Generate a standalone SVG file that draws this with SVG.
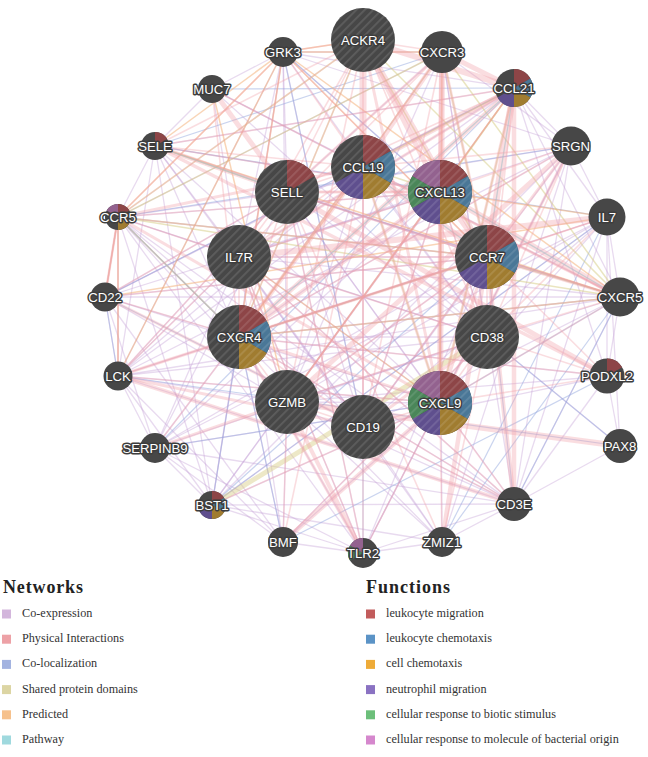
<svg xmlns="http://www.w3.org/2000/svg" xmlns:xlink="http://www.w3.org/1999/xlink" width="648" height="757" viewBox="0 0 648 757">
<style>
.e path{fill:none;stroke-linecap:butt}
.ce path{stroke:#c6a2d6;stroke-opacity:.4;stroke-width:1.3}
.pi path{stroke:#f0a2a9;stroke-opacity:.36;stroke-width:1.6}
.sd path{stroke:#d6cc82;stroke-opacity:.5;stroke-width:1.5}
.pr path{stroke:#f4ab70;stroke-opacity:.5;stroke-width:1.5}
.cl path{stroke:#96aae0;stroke-opacity:.5;stroke-width:1.2}
.pw path{stroke:#84d2da;stroke-opacity:.6;stroke-width:1.3}
.n{fill:#474747}
.hq{fill:url(#h)}
.f0{fill:#8d4547}.f1{fill:#4a7797}.f2{fill:#a07c30}.f3{fill:#5f4f8e}.f4{fill:#4a8659}.f5{fill:#93628f}
.lb{font-family:"Liberation Sans",Arial,sans-serif;font-size:13.2px;fill:#fff;stroke:#3d3d3d;stroke-width:3px;paint-order:stroke;stroke-linejoin:round;text-anchor:middle}
.lh{font-family:"Liberation Serif","Times New Roman",serif;font-size:18px;font-weight:bold;fill:#222}
.li{font-family:"Liberation Serif","Times New Roman",serif;font-size:12.2px;fill:#333}
</style>
<defs>
<pattern id="h" width="6" height="6" patternUnits="userSpaceOnUse" patternTransform="rotate(45)"><rect width="1.8" height="6" fill="#fff" fill-opacity=".12"/></pattern>
<path id="s0" d="M0 0V-1A1 1 0 0 1 .866-.5Z"/>
<path id="s1" d="M0 0L.866-.5A1 1 0 0 1 .866 .5Z"/>
<path id="s2" d="M0 0L.866 .5A1 1 0 0 1 0 1Z"/>
<path id="s3" d="M0 0V1A1 1 0 0 1-.866 .5Z"/>
<path id="s4" d="M0 0L-.866 .5A1 1 0 0 1-.866-.5Z"/>
<path id="s5" d="M0 0L-.866-.5A1 1 0 0 1 0-1Z"/>
</defs>
<rect width="648" height="757" fill="#fff"/>
<g id="connectors" class="e">
<g class="ce">
<path d="M155 448L487 337"/><path d="M155 448L440 403"/><path d="M155 448L487 257"/><path d="M155 448L514 504"/><path d="M155 448L118 376"/><path d="M155 448L239 337"/><path d="M155 448L239 257"/><path d="M155 448L287 192"/><path d="M155 448L363 553"/><path d="M155 448L283 542"/><path d="M155 448L440 192"/>
<path d="M118 376L514 504"/><path d="M118 376L287 402"/><path d="M118 376L487 257"/><path d="M118 376L287 192"/><path d="M118 376L239 257"/><path d="M118 376L440 403"/><path d="M118 376L620 297"/><path d="M118 376L212 505"/><path d="M118 376L363 167"/><path d="M118 376L283 542"/><path d="M118 376L487 337"/>
<path d="M105 297L620 297"/><path d="M105 297L487 257"/><path d="M105 297L287 192"/><path d="M105 297L440 192"/><path d="M105 297L363 167"/><path d="M105 297L239 337"/><path d="M105 297L118 376"/><path d="M105 297L283 542"/><path d="M105 297L287 402"/><path d="M105 297L440 403"/><path d="M105 297L155 448"/>
<path d="M118 217L287 402"/><path d="M118 217L487 337"/><path d="M118 217L239 337"/><path d="M118 217L239 257"/><path d="M118 217L514 504"/><path d="M118 217L287 192"/><path d="M118 217L487 257"/><path d="M118 217L155 146"/><path d="M118 217L118 376"/><path d="M118 217L105 297"/><path d="M118 217L363 553"/><path d="M118 217L212 505"/><path d="M118 217L440 192"/><path d="M118 217L363 427"/>
<path d="M155 146L440 192"/><path d="M155 146L514 88"/><path d="M155 146L487 257"/><path d="M155 146L212 89"/><path d="M155 146L239 257"/><path d="M155 146L440 403"/><path d="M155 146L239 337"/><path d="M155 146L363 427"/><path d="M155 146L118 376"/>
<path d="M212 89L283 52"/><path d="M212 89L487 337"/><path d="M212 89L620 297"/><path d="M212 89L363 167"/><path d="M212 89L239 257"/>
<path d="M283 52L287 192"/><path d="M283 52L239 257"/><path d="M283 52L514 88"/><path d="M283 52L571 146"/><path d="M283 52L487 337"/><path d="M283 52L118 376"/><path d="M283 52L442 52"/><path d="M283 52L440 192"/><path d="M283 52L363 427"/><path d="M283 52L287 402"/>
<path d="M442 52L118 217"/><path d="M442 52L514 504"/><path d="M442 52L571 146"/><path d="M442 52L287 402"/><path d="M442 52L287 192"/><path d="M442 52L487 337"/>
<path d="M514 88L571 146"/><path d="M514 88L607 217"/><path d="M514 88L620 297"/><path d="M514 88L239 257"/><path d="M514 88L212 505"/><path d="M514 88L607 376"/><path d="M514 88L118 376"/><path d="M514 88L105 297"/>
<path d="M571 146L607 217"/><path d="M571 146L440 403"/><path d="M571 146L514 504"/><path d="M571 146L212 505"/><path d="M571 146L363 553"/><path d="M571 146L442 542"/><path d="M571 146L118 376"/><path d="M571 146L239 337"/><path d="M571 146L239 257"/><path d="M571 146L287 192"/><path d="M571 146L363 427"/>
<path d="M607 217L620 297"/><path d="M607 217L514 504"/><path d="M607 217L440 403"/><path d="M607 217L607 376"/><path d="M607 217L620 446"/><path d="M607 217L212 505"/><path d="M607 217L155 448"/><path d="M607 217L239 337"/><path d="M607 217L363 427"/><path d="M607 217L287 402"/>
<path d="M620 297L363 427"/><path d="M620 297L607 376"/><path d="M620 297L514 504"/><path d="M620 297L487 257"/><path d="M620 297L287 192"/><path d="M620 297L287 402"/><path d="M620 297L239 337"/><path d="M620 297L239 257"/>
<path d="M607 376L514 504"/><path d="M607 376L620 446"/><path d="M607 376L239 337"/><path d="M607 376L287 402"/><path d="M607 376L363 427"/>
<path d="M620 446L514 504"/><path d="M620 446L487 337"/>
<path d="M514 504L363 553"/><path d="M514 504L442 542"/><path d="M514 504L287 402"/><path d="M514 504L239 337"/><path d="M514 504L239 257"/><path d="M514 504L212 505"/><path d="M514 504L287 192"/><path d="M514 504L363 427"/>
<path d="M442 542L363 553"/><path d="M442 542L239 337"/><path d="M442 542L239 257"/><path d="M442 542L287 402"/><path d="M442 542L440 192"/><path d="M442 542L212 505"/><path d="M442 542L363 427"/>
<path d="M363 553L440 403"/><path d="M363 553L239 337"/><path d="M363 553L287 192"/><path d="M363 553L212 505"/><path d="M363 553L283 542"/><path d="M363 553L239 257"/><path d="M363 553L487 257"/>
<path d="M283 542L287 402"/><path d="M283 542L239 337"/><path d="M283 542L239 257"/><path d="M283 542L487 337"/><path d="M283 542L440 403"/>
<path d="M212 505L155 448"/><path d="M212 505L239 337"/><path d="M212 505L440 403"/><path d="M212 505L283 52"/><path d="M212 505L155 146"/><path d="M212 505L287 402"/>
<path d="M287 192L440 403"/><path d="M287 192L487 337"/><path d="M287 192L487 257"/><path d="M287 192L363 427"/><path d="M239 257L487 257"/><path d="M239 257L487 337"/><path d="M239 257L440 403"/><path d="M239 257L440 192"/><path d="M239 337L487 257"/><path d="M239 337L487 337"/><path d="M239 337L440 192"/><path d="M287 402L440 403"/><path d="M287 402L487 257"/><path d="M287 402L440 192"/><path d="M287 402L487 337"/><path d="M363 427L487 257"/><path d="M363 427L440 192"/><path d="M363 427L363 167"/><path d="M363 167L487 337"/><path d="M363 167L287 402"/><path d="M440 192L487 337"/><path d="M239 257L363 427"/><path d="M239 257L287 402"/>
</g>
<g class="cl">
<path d="M155 146L442 52"/><path d="M283 52L440 192"/><path d="M212 89L514 88"/><path d="M155 448L440 403"/><path d="M105 297L363 427"/><path d="M239 337L283 542"/><path d="M212 505L239 337"/><path d="M363 553L363 427"/><path d="M487 337L620 446"/><path d="M607 217L212 505"/><path d="M607 376L283 542"/><path d="M283 52L363 427"/><path d="M118 376L620 446"/><path d="M105 297L514 88"/><path d="M155 146L607 217"/><path d="M118 217L571 146"/><path d="M607 217L442 542"/><path d="M620 297L514 504"/><path d="M287 192L620 297"/><path d="M212 505L487 257"/><path d="M155 448L514 88"/><path d="M440 403L620 297"/><path d="M487 257L514 504"/><path d="M620 297L442 542"/><path d="M118 376L105 297"/>
</g>
<g class="sd">
<path d="M442 52L118 217"/><path d="M442 52L487 257"/><path d="M442 52L239 337"/><path d="M442 52L620 297"/><path d="M118 217L487 257"/><path d="M118 217L239 337"/><path d="M118 217L620 297"/><path d="M487 257L239 337"/><path d="M487 257L620 297"/><path d="M239 337L620 297"/><path d="M363 40L487 257"/><path d="M363 40L239 337"/><path d="M363 40L118 217"/><path d="M363 40L620 297"/><path d="M514 88L363 167"/><path d="M514 88L440 192"/><path d="M514 88L440 403"/><path d="M363 167L440 192"/><path d="M363 167L440 403"/><path d="M440 192L440 403"/><path d="M287 192L155 146"/>
<path d="M212 505L487 337" style="stroke-width:5;stroke-opacity:.45"/>
</g>
<g class="pr">
<path d="M283 52L239 337"/><path d="M283 52L118 217"/><path d="M283 52L487 257"/><path d="M283 52L442 52"/><path d="M283 52L620 297"/><path d="M283 52L363 40"/><path d="M283 52L155 146"/><path d="M283 52L118 376"/><path d="M118 217L105 297"/><path d="M118 217L118 376"/><path d="M442 52L440 403"/><path d="M239 257L440 403"/><path d="M363 167L239 337"/><path d="M155 146L620 297"/><path d="M212 89L287 402"/><path d="M607 217L105 297"/><path d="M514 88L287 402"/><path d="M440 192L607 217"/>
</g>
<g class="pw">
<path d="M514 88L487 257"/><path d="M440 192L620 297"/><path d="M363 167L487 257"/><path d="M514 88L239 337"/><path d="M155 146L287 192"/><path d="M118 217L239 337"/>
</g>
<g class="pi">
<path d="M363 40L287 192"/><path d="M363 40L239 337"/><path d="M363 40L239 257"/><path d="M363 40L287 402"/><path d="M363 40L487 337"/><path d="M363 40L442 52"/><path d="M363 40L118 217"/><path d="M363 40L155 146"/><path d="M363 40L363 427"/><path d="M363 40L283 52"/>
<path d="M283 52L239 337"/><path d="M283 52L487 257"/><path d="M283 52L118 217"/><path d="M283 52L363 167"/>
<path d="M514 88L287 192"/><path d="M514 88L287 402"/><path d="M514 88L487 337"/><path d="M514 88L155 146"/>
<path d="M442 52L239 337"/><path d="M442 52L239 257"/><path d="M442 52L363 427"/>
<path d="M363 167L287 192"/><path d="M363 167L239 257"/><path d="M363 167L363 427"/><path d="M363 167L620 297"/>
<path d="M440 192L287 192"/><path d="M440 192L239 257"/><path d="M440 192L363 427"/><path d="M440 192L571 146"/><path d="M440 192L287 402"/><path d="M440 192L487 337"/>
<path d="M239 337L287 402"/><path d="M239 337L363 427"/><path d="M239 337L239 257"/><path d="M239 337L287 192"/><path d="M239 337L118 217"/><path d="M239 337L105 297"/><path d="M239 337L155 448"/>
<path d="M487 257L487 337"/><path d="M487 257L287 192"/><path d="M487 257L239 257"/><path d="M487 257L287 402"/><path d="M487 257L363 427"/><path d="M487 257L118 217"/><path d="M487 257L105 297"/><path d="M487 257L118 376"/><path d="M487 257L607 376"/>
<path d="M287 192L239 257"/><path d="M287 192L287 402"/><path d="M239 257L287 402"/><path d="M239 257L118 217"/><path d="M239 257L118 376"/>
<path d="M287 402L363 427"/><path d="M287 402L487 337"/><path d="M287 402L283 542"/>
<path d="M363 427L440 403"/><path d="M363 427L363 553"/><path d="M363 427L514 504"/>
<path d="M487 337L440 403"/><path d="M487 337L607 217"/><path d="M487 337L620 297"/>
<path d="M440 403L620 297"/><path d="M440 403L363 553"/><path d="M440 403L442 542"/><path d="M440 403L514 504"/><path d="M440 403L607 376"/>
<path d="M118 217L440 192"/><path d="M118 217L118 376"/><path d="M118 217L105 297"/>
<path d="M363 553L287 192"/><path d="M363 553L239 257"/><path d="M155 146L440 192"/><path d="M155 146L363 167"/><path d="M212 89L239 337"/><path d="M212 89L363 167"/><path d="M118 376L287 192"/><path d="M118 376L440 403"/><path d="M105 297L287 192"/>
<path d="M571 146L487 337"/><path d="M571 146L239 337"/><path d="M571 146L363 167"/><path d="M607 217L487 257"/><path d="M607 217L239 337"/><path d="M620 297L239 337"/><path d="M620 297L287 192"/><path d="M607 376L239 337"/><path d="M607 376L239 257"/><path d="M442 542L487 337"/><path d="M442 542L287 192"/><path d="M514 504L239 337"/><path d="M514 504L239 257"/><path d="M283 542L487 337"/><path d="M283 542L363 167"/><path d="M212 505L440 403"/>
</g>
<g class="pi">
<path style="stroke-width:3" d="M118 217L440 403"/><path style="stroke-width:3" d="M118 376L239 337"/><path style="stroke-width:3" d="M118 376L363 427"/><path style="stroke-width:3" d="M105 297L363 427"/><path style="stroke-width:3" d="M155 448L287 402"/><path style="stroke-width:3" d="M239 337L487 257"/><path style="stroke-width:3" d="M239 337L440 403"/><path style="stroke-width:3" d="M363 167L440 403"/><path style="stroke-width:3" d="M440 192L440 403"/><path style="stroke-width:3" d="M487 257L440 403"/><path style="stroke-width:3" d="M571 146L487 257"/><path style="stroke-width:3" d="M363 553L239 337"/><path style="stroke-width:3" d="M487 337L363 427"/><path style="stroke-width:3" d="M363 40L440 403"/><path style="stroke-width:3" d="M442 52L487 257"/><path style="stroke-width:3" d="M571 146L440 403"/><path style="stroke-width:3" d="M514 88L440 403"/><path style="stroke-width:3" d="M118 217L363 167"/><path style="stroke-width:3" d="M620 297L487 257"/><path style="stroke-width:3" d="M620 297L363 167"/><path style="stroke-width:3" d="M514 88L239 257"/><path style="stroke-width:3" d="M287 192L440 192"/><path style="stroke-width:2.5" d="M118 217L105 297"/><path style="stroke-width:2.5" d="M442 52L287 192"/>
</g>
<g class="pi">
<path style="stroke-width:4.5" d="M442 52L440 192"/><path style="stroke-width:4.5" d="M442 52L363 167"/><path style="stroke-width:4.5" d="M514 88L363 167"/><path style="stroke-width:4.5" d="M514 88L239 337"/><path style="stroke-width:4.5" d="M440 192L487 257"/><path style="stroke-width:4.5" d="M363 167L239 337"/><path style="stroke-width:4.5" d="M239 337L440 192"/><path style="stroke-width:4.5" d="M283 542L440 403"/><path style="stroke-width:4.5" d="M442 542L487 257"/><path style="stroke-width:4.5" d="M155 146L287 192"/><path style="stroke-width:4" d="M118 376L514 504"/><path style="stroke-width:4" d="M363 553L287 402"/><path style="stroke-width:3.5" d="M155 146L607 376"/><path style="stroke-width:4.5" d="M514 88L514 504"/><path style="stroke-width:4.5" d="M487 257L514 504"/><path style="stroke-width:5" d="M363 40L440 192"/><path style="stroke-width:5" d="M442 52L514 88"/><path style="stroke-width:5" d="M287 192L607 376"/><path style="stroke-width:5" d="M212 89L287 192"/><path style="stroke-width:5" d="M571 146L287 402"/>
<path style="stroke-width:7" d="M363 40L363 167"/><path style="stroke-width:7" d="M514 88L487 257"/><path style="stroke-width:6" d="M363 40L514 88"/><path style="stroke-width:6" d="M363 40L487 257"/><path style="stroke-width:6" d="M442 52L440 403"/><path style="stroke-width:6" d="M440 192L620 297"/><path style="stroke-width:6" d="M363 167L487 257"/><path style="stroke-width:6" d="M287 402L620 446"/><path style="stroke-width:6" d="M607 217L239 257"/>
</g>
</g>
<g id="nodes">
<g id="n-ACKR4"><circle class="n" cx="363" cy="40" r="32"/><circle class="hq" cx="363" cy="40" r="32"/><text class="lb" x="363" y="44.6">ACKR4</text></g>
<g id="n-GRK3"><circle class="n" cx="283" cy="52" r="15"/><text class="lb" x="283" y="56.6">GRK3</text></g>
<g id="n-CXCR3"><circle class="n" cx="442" cy="52" r="21"/><text class="lb" x="442" y="56.6">CXCR3</text></g>
<g id="n-CCL21"><circle class="n" cx="514" cy="88" r="19"/><use href="#s0" class="f0" transform="translate(514 88) scale(19)"/><use href="#s1" class="f1" transform="translate(514 88) scale(19)"/><use href="#s2" class="f2" transform="translate(514 88) scale(19)"/><use href="#s3" class="f3" transform="translate(514 88) scale(19)"/><text class="lb" x="514" y="92.6">CCL21</text></g>
<g id="n-MUC7"><circle class="n" cx="212" cy="89" r="14"/><text class="lb" x="212" y="93.6">MUC7</text></g>
<g id="n-SELE"><circle class="n" cx="155" cy="146" r="14"/><use href="#s0" class="f0" transform="translate(155 146) scale(14)"/><text class="lb" x="155" y="150.6">SELE</text></g>
<g id="n-SRGN"><circle class="n" cx="571" cy="146" r="19.5"/><text class="lb" x="571" y="150.6">SRGN</text></g>
<g id="n-SELL"><circle class="n" cx="287" cy="192" r="32"/><use href="#s0" class="f0" transform="translate(287 192) scale(32)"/><circle class="hq" cx="287" cy="192" r="32"/><text class="lb" x="287" y="196.6">SELL</text></g>
<g id="n-CCL19"><circle class="n" cx="363" cy="167" r="32"/><use href="#s0" class="f0" transform="translate(363 167) scale(32)"/><use href="#s1" class="f1" transform="translate(363 167) scale(32)"/><use href="#s2" class="f2" transform="translate(363 167) scale(32)"/><use href="#s3" class="f3" transform="translate(363 167) scale(32)"/><circle class="hq" cx="363" cy="167" r="32"/><text class="lb" x="363" y="171.6">CCL19</text></g>
<g id="n-CXCL13"><circle class="n" cx="440" cy="192" r="32"/><use href="#s0" class="f0" transform="translate(440 192) scale(32)"/><use href="#s1" class="f1" transform="translate(440 192) scale(32)"/><use href="#s2" class="f2" transform="translate(440 192) scale(32)"/><use href="#s3" class="f3" transform="translate(440 192) scale(32)"/><use href="#s4" class="f4" transform="translate(440 192) scale(32)"/><use href="#s5" class="f5" transform="translate(440 192) scale(32)"/><circle class="hq" cx="440" cy="192" r="32"/><text class="lb" x="440" y="196.6">CXCL13</text></g>
<g id="n-CCR5"><circle class="n" cx="118" cy="217" r="13"/><use href="#s0" class="f0" transform="translate(118 217) scale(13)"/><use href="#s2" class="f2" transform="translate(118 217) scale(13)"/><use href="#s5" class="f5" transform="translate(118 217) scale(13)"/><text class="lb" x="118" y="221.6">CCR5</text></g>
<g id="n-IL7"><circle class="n" cx="607" cy="217" r="18.5"/><text class="lb" x="607" y="221.6">IL7</text></g>
<g id="n-IL7R"><circle class="n" cx="239" cy="257" r="32"/><circle class="hq" cx="239" cy="257" r="32"/><text class="lb" x="239" y="261.6">IL7R</text></g>
<g id="n-CCR7"><circle class="n" cx="487" cy="257" r="32"/><use href="#s0" class="f0" transform="translate(487 257) scale(32)"/><use href="#s1" class="f1" transform="translate(487 257) scale(32)"/><use href="#s2" class="f2" transform="translate(487 257) scale(32)"/><use href="#s3" class="f3" transform="translate(487 257) scale(32)"/><circle class="hq" cx="487" cy="257" r="32"/><text class="lb" x="487" y="261.6">CCR7</text></g>
<g id="n-CD22"><circle class="n" cx="105" cy="297" r="14.5"/><text class="lb" x="105" y="301.6">CD22</text></g>
<g id="n-CXCR5"><circle class="n" cx="620" cy="297" r="19.5"/><text class="lb" x="620" y="301.6">CXCR5</text></g>
<g id="n-CXCR4"><circle class="n" cx="239" cy="337" r="32"/><use href="#s0" class="f0" transform="translate(239 337) scale(32)"/><use href="#s1" class="f1" transform="translate(239 337) scale(32)"/><use href="#s2" class="f2" transform="translate(239 337) scale(32)"/><circle class="hq" cx="239" cy="337" r="32"/><text class="lb" x="239" y="341.6">CXCR4</text></g>
<g id="n-CD38"><circle class="n" cx="487" cy="337" r="32"/><circle class="hq" cx="487" cy="337" r="32"/><text class="lb" x="487" y="341.6">CD38</text></g>
<g id="n-LCK"><circle class="n" cx="118" cy="376" r="14.5"/><text class="lb" x="118" y="380.6">LCK</text></g>
<g id="n-PODXL2"><circle class="n" cx="607" cy="376" r="17.5"/><use href="#s0" class="f0" transform="translate(607 376) scale(17.5)"/><text class="lb" x="607" y="380.6">PODXL2</text></g>
<g id="n-GZMB"><circle class="n" cx="287" cy="402" r="32"/><circle class="hq" cx="287" cy="402" r="32"/><text class="lb" x="287" y="406.6">GZMB</text></g>
<g id="n-CXCL9"><circle class="n" cx="440" cy="403" r="32"/><use href="#s0" class="f0" transform="translate(440 403) scale(32)"/><use href="#s1" class="f1" transform="translate(440 403) scale(32)"/><use href="#s2" class="f2" transform="translate(440 403) scale(32)"/><use href="#s3" class="f3" transform="translate(440 403) scale(32)"/><use href="#s4" class="f4" transform="translate(440 403) scale(32)"/><use href="#s5" class="f5" transform="translate(440 403) scale(32)"/><circle class="hq" cx="440" cy="403" r="32"/><text class="lb" x="440" y="407.6">CXCL9</text></g>
<g id="n-CD19"><circle class="n" cx="363" cy="427" r="32"/><circle class="hq" cx="363" cy="427" r="32"/><text class="lb" x="363" y="431.6">CD19</text></g>
<g id="n-SERPINB9"><circle class="n" cx="155" cy="448" r="15"/><text class="lb" x="155" y="452.6">SERPINB9</text></g>
<g id="n-PAX8"><circle class="n" cx="620" cy="446" r="17"/><text class="lb" x="620" y="450.6">PAX8</text></g>
<g id="n-BST1"><circle class="n" cx="212" cy="505" r="14"/><use href="#s0" class="f0" transform="translate(212 505) scale(14)"/><use href="#s1" class="f1" transform="translate(212 505) scale(14)"/><use href="#s2" class="f2" transform="translate(212 505) scale(14)"/><use href="#s3" class="f3" transform="translate(212 505) scale(14)"/><text class="lb" x="212" y="509.6">BST1</text></g>
<g id="n-CD3E"><circle class="n" cx="514" cy="504" r="17"/><text class="lb" x="514" y="508.6">CD3E</text></g>
<g id="n-BMF"><circle class="n" cx="283" cy="542" r="15"/><text class="lb" x="283" y="546.6">BMF</text></g>
<g id="n-TLR2"><circle class="n" cx="363" cy="553" r="15"/><use href="#s4" class="f4" transform="translate(363 553) scale(15)"/><use href="#s5" class="f5" transform="translate(363 553) scale(15)"/><text class="lb" x="363" y="557.6">TLR2</text></g>
<g id="n-ZMIZ1"><circle class="n" cx="442" cy="542" r="15"/><text class="lb" x="442" y="546.6">ZMIZ1</text></g>
</g>
<g id="legend-networks">
<text class="lh" x="3" y="593" textLength="80" lengthAdjust="spacing">Networks</text>
<rect x="2" y="609.5" width="9" height="9" fill="#d3b6dc"/><text class="li" x="22" y="617">Co-expression</text>
<rect x="2" y="634.7" width="9" height="9" fill="#eda1a6"/><text class="li" x="22" y="642.2">Physical Interactions</text>
<rect x="2" y="659.9" width="9" height="9" fill="#a3b3e0"/><text class="li" x="22" y="667.4">Co-localization</text>
<rect x="2" y="685.1" width="9" height="9" fill="#dcd5a3"/><text class="li" x="22" y="692.6">Shared protein domains</text>
<rect x="2" y="710.3" width="9" height="9" fill="#f6c18c"/><text class="li" x="22" y="717.8">Predicted</text>
<rect x="2" y="735.5" width="9" height="9" fill="#9fd9de"/><text class="li" x="22" y="743">Pathway</text>
</g>
<g id="legend-functions">
<text class="lh" x="366" y="593" textLength="84" lengthAdjust="spacing">Functions</text>
<rect x="366" y="609.5" width="9" height="9" fill="#c25c5c"/><text class="li" x="386" y="617">leukocyte migration</text>
<rect x="366" y="634.7" width="9" height="9" fill="#5b93c6"/><text class="li" x="386" y="642.2">leukocyte chemotaxis</text>
<rect x="366" y="659.9" width="9" height="9" fill="#eeab38"/><text class="li" x="386" y="667.4">cell chemotaxis</text>
<rect x="366" y="685.1" width="9" height="9" fill="#8a72c2"/><text class="li" x="386" y="692.6">neutrophil migration</text>
<rect x="366" y="710.3" width="9" height="9" fill="#6cbf7a"/><text class="li" x="386" y="717.8">cellular response to biotic stimulus</text>
<rect x="366" y="735.5" width="9" height="9" fill="#d587cd"/><text class="li" x="386" y="743">cellular response to molecule of bacterial origin</text>
</g>
</svg>
